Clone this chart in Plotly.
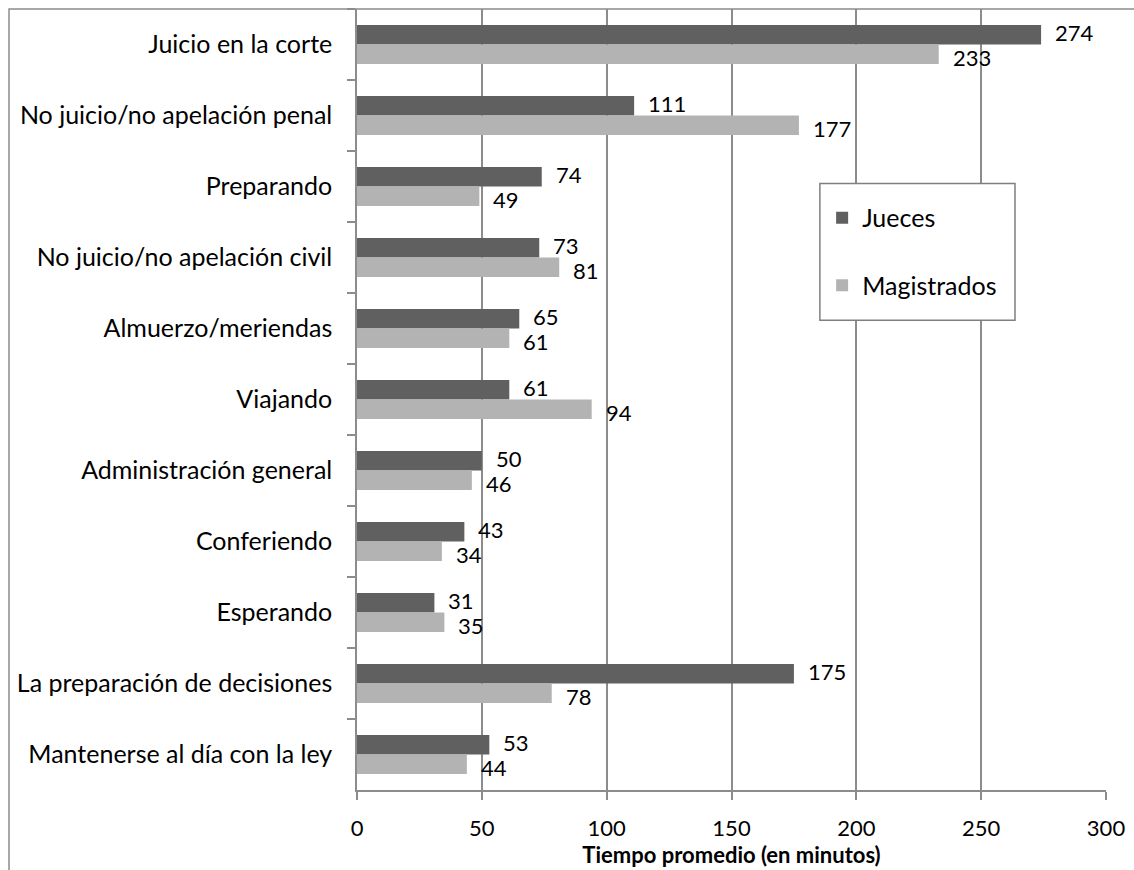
import plotly.graph_objects as go

categorias = [
    "Juicio en la corte",
    "No juicio/no apelación penal",
    "Preparando",
    "No juicio/no apelación civil",
    "Almuerzo/meriendas",
    "Viajando",
    "Administración general",
    "Conferiendo",
    "Esperando",
    "La preparación de decisiones",
    "Mantenerse al día con la ley",
]
jueces = [274, 111, 74, 73, 65, 61, 50, 43, 31, 175, 53]
magistrados = [233, 177, 49, 81, 61, 94, 46, 34, 35, 78, 44]
x_ticks = [0, 50, 100, 150, 200, 250, 300]

FONT = "Lato"
DARK = "#606060"
LIGHT = "#b3b3b3"
GRID = "#8c8c8c"

fig = go.Figure()
fig.add_trace(go.Bar(y=categorias, x=jueces, name="Jueces", orientation="h",
                     marker=dict(color=DARK, line=dict(width=0)),
                     legendgroup="j"))
fig.add_trace(go.Bar(y=categorias, x=magistrados, name="Magistrados", orientation="h",
                     marker=dict(color=LIGHT, line=dict(width=0)),
                     legendgroup="m"))

# value labels beside each bar end
annotations = []
for cat, v in zip(categorias, jueces):
    annotations.append(dict(x=v, y=cat, xref="x", yref="y", text=str(v),
                            showarrow=False, xanchor="left", xshift=12, yshift=12,
                            font=dict(family=FONT, size=22, color="#000")))
for cat, v in zip(categorias, magistrados):
    annotations.append(dict(x=v, y=cat, xref="x", yref="y", text=str(v),
                            showarrow=False, xanchor="left", xshift=12, yshift=-13,
                            font=dict(family=FONT, size=22, color="#000")))

fig.update_layout(
    width=1134, height=870,
    margin=dict(l=357, r=28, t=9, b=78),
    paper_bgcolor="white", plot_bgcolor="white",
    barmode="group", bargap=0.45, bargroupgap=0,
    font=dict(family=FONT, size=22, color="#000"),
    annotations=annotations,
    legend=dict(
        x=0.621, y=0.762, xanchor="left", yanchor="top",
        borderwidth=0, bgcolor="rgba(0,0,0,0)",
        font=dict(family=FONT, size=25, color="#000"),
        traceorder="grouped", tracegroupgap=32,
        itemwidth=30,
    ),
    shapes=[
        # outer chart frame
        dict(type="rect", xref="paper", yref="paper",
             x0=-0.4646, x1=1.2, y0=-0.3, y1=1.0,
             line=dict(color="#8c8c8c", width=1.5), layer="below"),
        # legend frame
        dict(type="rect", xref="paper", yref="paper",
             x0=0.618, x1=0.8785, y0=0.6015, y1=0.7765,
             line=dict(color="#7f7f7f", width=1.5), fillcolor="white",
             layer="above"),
    ],
)

fig.update_xaxes(
    range=[0, 300], tickvals=x_ticks, ticktext=[str(t) for t in x_ticks],
    showgrid=True, gridcolor=GRID, gridwidth=1.5,
    showline=True, linecolor=GRID, linewidth=1.5,
    ticks="outside", ticklen=8, tickcolor=GRID, tickwidth=1.5,
    tickfont=dict(family=FONT, size=22, color="#000"),
    ticklabelstandoff=10,
    zeroline=False,
    title=dict(text="<b>Tiempo promedio (en minutos)</b>",
               font=dict(family=FONT, size=22, color="#000"), standoff=4),
)
fig.update_yaxes(
    autorange="reversed",
    showline=True, linecolor=GRID, linewidth=1.5,
    ticks="outside", ticklen=8, tickcolor=GRID, tickwidth=1.5,
    tickson="boundaries", showgrid=False,
    tickfont=dict(family=FONT, size=25, color="#000"),
    ticklabelstandoff=18,
)

fig.write_html("out.html")
